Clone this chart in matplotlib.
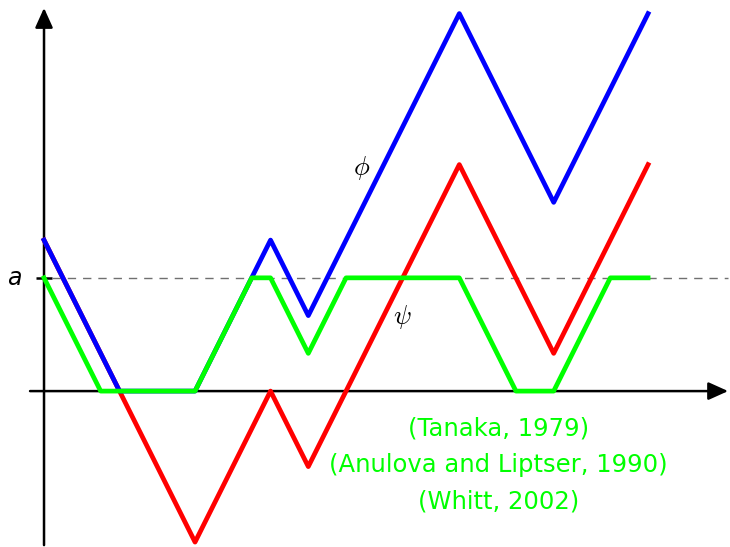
import matplotlib
matplotlib.use("Agg")
import matplotlib.pyplot as plt

plt.rcParams['mathtext.fontset'] = 'cm'

# free path psi, its one-sided reflection phi, and the two-sided reflection in [0, a]
a = 3
t_psi = [0, 2, 4, 6, 7, 11, 13.5, 16]
psi = [4, 0, -4, 0, -2, 6, 1, 6]
t_phi = [0, 2, 4, 6, 7, 11, 13.5, 16]
phi = [4, 0, 0, 4, 2, 10, 5, 10]
t_two = [0, 1.5, 4, 5.5, 6, 7, 8, 11, 12.5, 13.5, 15, 16]
two_sided = [3, 0, 0, 3, 3, 1, 3, 3, 0, 0, 3, 3]
refs = ["(Tanaka, 1979)", "(Anulova and Liptser, 1990)", "(Whitt, 2002)"]

fig = plt.figure(figsize=(7.3, 5.47), dpi=100)
ax = fig.add_axes([0, 0, 1, 1])
ax.set_xlim(-1.166, 18.17)
ax.set_ylim(-4.13, 10.36)
ax.axis('off')

# axes with arrow heads
arrow = dict(arrowstyle='-|>,head_length=1.0,head_width=0.45', color='black',
             lw=1.8, mutation_scale=12, shrinkA=0, shrinkB=0)
ax.annotate('', xy=(18.12, 0), xytext=(-0.37, 0), arrowprops=arrow)
ax.annotate('', xy=(0, 10.15), xytext=(0, -4.08), arrowprops=arrow)

# level a
ax.plot([-0.22, 0.22], [a, a], color='black', lw=1.8, solid_capstyle='butt')
ax.plot([0.22, 18.12], [a, a], color='#707070', lw=1.0, dashes=(6, 5))
ax.text(-0.6, a, 'a', fontsize=17, ha='right', va='center', style='italic')

ax.plot(t_psi, psi, color='#ff0000', lw=3.4, zorder=3)
ax.plot(t_phi, phi, color='#0000ff', lw=3.4, zorder=4)
ax.plot(t_two, two_sided, color='#00ff00', lw=3.4, zorder=5)

ax.text(8.4, 5.9, r'$\phi$', fontsize=19, ha='center', va='center')
ax.text(9.5, 1.95, r'$\psi$', fontsize=19, ha='center', va='center')

for i, s in enumerate(refs):
    ax.text(12.03, -1.0 - 0.96 * i, s, color='#00ff00', fontsize=17.5,
            ha='center', va='center')

fig.savefig('out.png', dpi=100)
